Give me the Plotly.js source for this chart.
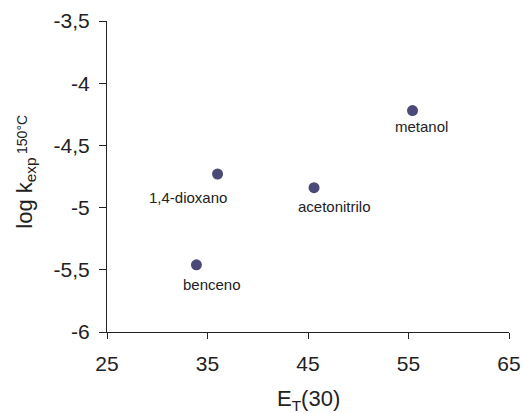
<!DOCTYPE html>
<html>
<head>
<meta charset="utf-8">
<script src="https://cdn.plot.ly/plotly-3.0.1.min.js"></script>
<style>html,body{margin:0;padding:0;background:#fff;}#chart{width:523px;height:414px;}</style>
</head>
<body>
<div id="chart"></div>
<script>
// Data
const solvents = ["benceno", "1,4-dioxano", "acetonitrilo", "metanol"];
const etValues = [33.9, 36.0, 45.6, 55.4];
const logKValues = [-5.46, -4.73, -4.84, -4.22];
const xTickVals = [25, 35, 45, 55, 65];
const xTickText = ["25", "35", "45", "55", "65"];
const yTickVals = [-6, -5.5, -5, -4.5, -4, -3.5];
const yTickText = ["-6", "-5,5", "-5", "-4,5", "-4", "-3,5"];
const yTitleMain = "log k<sub>exp</sub>";
const yTitleSup = "150°C";
const xTitle = "E<sub>T</sub>(30)";

// label offsets (pixels) relative to each point
const labelShiftX = [16, -30, 20, 9];
const labelShiftY = [-20, -23, -19, -16];

const font = "Liberation Sans, Arial, sans-serif";
const ink = "#222";

const trace = {
  x: etValues,
  y: logKValues,
  mode: "markers",
  type: "scatter",
  marker: {color: "#4a4977", size: 11},
  hoverinfo: "skip"
};

const annotations = solvents.map((s, i) => ({
  x: etValues[i], y: logKValues[i], xref: "x", yref: "y",
  text: s, showarrow: false,
  xshift: labelShiftX[i], yshift: labelShiftY[i],
  font: {family: font, size: 15, color: ink}
}));

annotations.push({
  xref: "paper", yref: "paper", x: -0.2035, y: 0.4453,
  xanchor: "center", yanchor: "middle", textangle: -90,
  text: yTitleMain, showarrow: false,
  font: {family: font, size: 22, color: ink}
});
annotations.push({
  xref: "paper", yref: "paper", x: -0.2115, y: 0.6367,
  xanchor: "center", yanchor: "middle", textangle: -90,
  text: yTitleSup, showarrow: false,
  font: {family: font, size: 14, color: ink}
});
annotations.push({
  xref: "paper", yref: "paper", x: 0.5, y: -0.2185,
  xanchor: "center", yanchor: "middle",
  text: xTitle, showarrow: false,
  font: {family: font, size: 22, color: ink}
});

const layout = {
  width: 523, height: 414,
  margin: {l: 107, r: 14, t: 21, b: 82},
  paper_bgcolor: "#fff", plot_bgcolor: "#fff",
  showlegend: false,
  font: {family: font, color: ink},
  xaxis: {
    range: [25, 65], tickvals: xTickVals, ticktext: xTickText,
    showgrid: false, zeroline: false,
    showline: true, linecolor: ink, linewidth: 1,
    ticks: "outside", ticklen: 6, tickcolor: ink, tickwidth: 1,
    ticklabelstandoff: 7,
    tickfont: {family: font, size: 21, color: ink}
  },
  yaxis: {
    range: [-6, -3.5], tickvals: yTickVals, ticktext: yTickText,
    showgrid: false, zeroline: false,
    showline: true, linecolor: ink, linewidth: 1,
    ticks: "outside", ticklen: 7, tickcolor: ink, tickwidth: 1,
    ticklabelstandoff: 5,
    tickfont: {family: font, size: 21, color: ink}
  },
  annotations: annotations
};

Plotly.newPlot("chart", [trace], layout, {staticPlot: true, displayModeBar: false});
</script>
</body>
</html>
